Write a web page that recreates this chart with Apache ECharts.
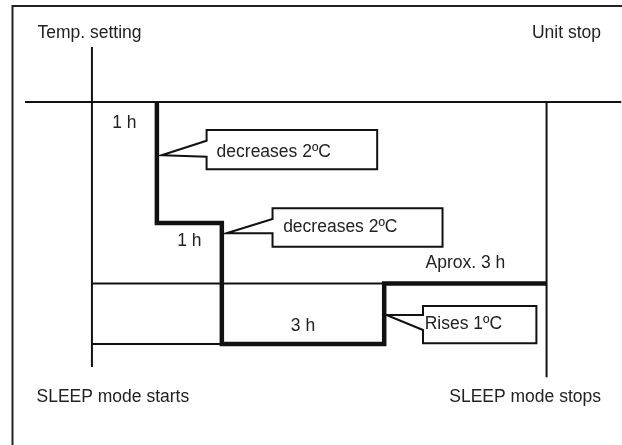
<!DOCTYPE html>
<html>
<head>
<meta charset="utf-8">
<script src="https://cdn.jsdelivr.net/npm/echarts@6/dist/echarts.min.js"></script>
<style>
html,body{margin:0;padding:0;background:#fff;}
#c{width:622px;height:445px;}
</style>
</head>
<body>
<div id="c"></div>
<script>
// ---- data (diagram units: x = schematic time steps, y = temperature change in °C) ----
const stepX = [1, 1, 2, 2, 4.5, 4.5, 7];
const stepT = [0, -2, -2, -4, -4, -3, -3];

const settingLineX = [-1.03, 8.15];      // set-temperature level (0 °C)
const startAxisT = [0.91, -4.38];         // vertical line at SLEEP start (x = 0)
const stopAxisT = [0, -4.55];             // vertical line at SLEEP stop (x = 7)
const levelMinus3X = [0, 4.5];            // thin guide at -3 °C
const levelMinus4X = [0, 2];              // thin guide at -4 °C

const durationText = ['1 h', '1 h', '3 h', 'Aprox. 3 h'];
const durationX = [0.5, 1.5, 3.25, 5.75];
const durationT = [-0.35, -2.3, -3.7, -2.66];

const calloutText = ['decreases 2ºC', 'decreases 2ºC', 'Rises 1ºC'];
const calloutX = [1, 2, 4.5];
const calloutT = [-0.88, -2.17, -3.52];

const cornerLabels = ['Temp. setting', 'Unit stop', 'SLEEP mode starts', 'SLEEP mode stops'];

// ---- styles ----
const INK = '#111';
const TXT = '#222';
const FONT = '17.5px "Liberation Sans", Arial, Helvetica, sans-serif';
const calloutShapes = [
  {tip: [4.7, 0], left: 49.7, right: 220.3, top: -25.2, upper: -14.5, lower: 1.5, bottom: 14.1, tx: 59.7, ty: -3.5},
  {tip: [4.7, 0], left: 50.7, right: 220.7, top: -25, upper: -14.3, lower: 0, bottom: 13.4, tx: 61.3, ty: -6},
  {tip: [2.2, 0], left: 38.8, right: 152.2, top: -9, upper: 0, lower: 15, bottom: 28.3, tx: 40.5, ty: 9}
];
const cornerPos = [
  {x: 37.5, y: 33, align: 'left'},
  {x: 601, y: 33, align: 'right'},
  {x: 36.5, y: 397, align: 'left'},
  {x: 601, y: 397, align: 'right'}
];

function lineSeries(points, width, z) {
  return {
    type: 'line', data: points, symbol: 'none', clip: false, silent: true, z: z,
    lineStyle: {color: INK, width: width, join: 'miter', cap: 'butt'}
  };
}

const chart = echarts.init(document.getElementById('c'), null, {renderer: 'canvas'});
chart.setOption({
  animation: false,
  backgroundColor: '#fff',
  // ~65 px per x-unit (x = 0 at 92 px), 60.5 px per °C (0 °C at 102 px)
  grid: {left: 20.5, right: 0.75, top: 41.5, bottom: 40.5},
  xAxis: {type: 'value', min: -1.1, max: 8.15, show: false},
  yAxis: {type: 'value', min: -5, max: 1, show: false},
  graphic: [
    {type: 'polyline', shape: {points: [[12.5, 460], [12.5, 6], [640, 6]]},
     style: {stroke: '#222', lineWidth: 2, fill: null}, z: 1},
  ].concat(cornerLabels.map((t, i) => ({
    type: 'text', z: 10,
    style: {text: t, x: cornerPos[i].x, y: cornerPos[i].y, align: cornerPos[i].align,
            verticalAlign: 'middle', font: FONT, fill: TXT}
  }))),
  series: [
    lineSeries(settingLineX.map(x => [x, 0]), 2, 2),
    lineSeries(startAxisT.map(t => [0, t]), 2, 2),
    lineSeries(stopAxisT.map(t => [7, t]), 2, 2),
    lineSeries(levelMinus3X.map(x => [x, -3]), 2, 2),
    lineSeries(levelMinus4X.map(x => [x, -4]), 2, 2),
    lineSeries(stepX.map((x, i) => [x, stepT[i]]), 4.5, 3),
    {
      type: 'scatter', silent: true, z: 4, symbolSize: 0,
      itemStyle: {color: TXT},
      data: durationX.map((x, i) => [x, durationT[i], durationText[i]]),
      label: {show: true, position: 'inside', formatter: p => p.value[2],
              fontFamily: '"Liberation Sans", Arial, sans-serif', fontSize: 17.5, color: TXT,
              textBorderWidth: 0, textBorderColor: 'transparent', opacity: 1}
    },
    {
      type: 'custom', silent: true, z: 5, clip: false,
      data: calloutX.map((x, i) => [x, calloutT[i]]),
      renderItem: function (params, api) {
        const p = api.coord([api.value(0), api.value(1)]);
        const s = calloutShapes[params.dataIndex];
        const X = d => p[0] + d, Y = d => p[1] + d;
        const pts = [
          [X(s.tip[0]), Y(s.tip[1])],
          [X(s.left), Y(s.upper)],
          [X(s.left), Y(s.top)],
          [X(s.right), Y(s.top)],
          [X(s.right), Y(s.bottom)],
          [X(s.left), Y(s.bottom)],
          [X(s.left), Y(s.lower)]
        ];
        return {
          type: 'group',
          children: [
            {type: 'polygon', shape: {points: pts},
             style: {fill: '#fff', stroke: INK, lineWidth: 2, lineJoin: 'miter'}},
            {type: 'text',
             style: {text: calloutText[params.dataIndex], x: X(s.tx), y: Y(s.ty),
                     align: 'left', verticalAlign: 'middle', font: FONT, fill: TXT}}
          ]
        };
      }
    }
  ]
});
</script>
</body>
</html>
